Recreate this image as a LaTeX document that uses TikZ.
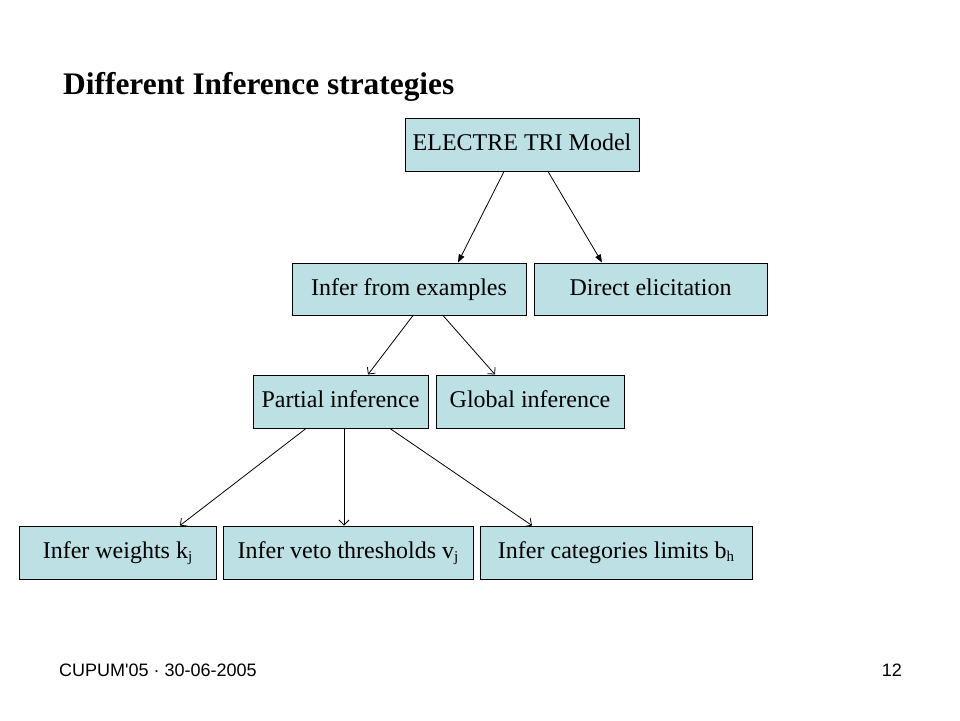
\documentclass[tikz,border=0pt]{standalone}
\usepackage{fontspec}
\setmainfont{Liberation Serif}
\newfontfamily\footfont{Liberation Sans}
\usetikzlibrary{arrows.meta,calc}
\definecolor{boxfill}{RGB}{189,224,228}
\tikzset{
  bx/.style={draw=black, line width=1pt, fill=boxfill, rectangle, inner sep=0pt,
    text height=17pt, text depth=5pt,
    font=\fontsize{24}{28}\selectfont},
  arfill/.style={line width=0.8pt, -{Triangle[length=8pt,width=6pt]}},
  aropen/.style={line width=0.8pt, -{Straight Barb[length=5pt,width=10pt]}},
}
\newcommand{\sbs}[1]{\raisebox{-0.3ex}{\fontsize{15}{15}\selectfont #1}}
\begin{document}
\begin{tikzpicture}[x=1pt,y=-1pt]
\useasboundingbox[fill=white] (0,0) rectangle (960,720);
% title
\node[anchor=base west, inner sep=0pt, font=\fontsize{31.4}{36}\selectfont\bfseries] (title) at (63,94) {Different Inference strategies};
% boxes
\node[bx, minimum width=234pt, minimum height=53pt] (e) at (522,144.5) {ELECTRE TRI Model};
\node[bx, minimum width=234pt, minimum height=52pt] (ife) at (409,289) {Infer from examples};
\node[bx, minimum width=233pt, minimum height=52pt] (de) at (650.5,289) {Direct elicitation};
\node[bx, minimum width=175pt, minimum height=53pt] (pi) at (340.5,401.5) {Partial inference};
\node[bx, minimum width=188pt, minimum height=53pt] (gi) at (530,401.5) {Global inference};
\node[bx, minimum width=197pt, minimum height=53pt] (w) at (117.5,552.5) {Infer weights k\sbs{j}};
\node[bx, minimum width=250pt, minimum height=53pt] (v) at (348,552.5) {Infer veto thresholds v\sbs{j}};
\node[bx, minimum width=272pt, minimum height=53pt] (c) at (616,552.5) {Infer categories limits b\sbs{h}};
% arrows
\draw[arfill] ([xshift=-18pt]e.south) -- ([xshift=49pt]ife.north);
\draw[arfill] ([xshift=26pt]e.south) -- ([xshift=-48.5pt]de.north);
\draw[aropen] ([xshift=4pt]ife.south) -- ([xshift=27.5pt]pi.north);
\draw[aropen] ([xshift=34pt]ife.south) -- ([xshift=-35pt]gi.north);
\draw[aropen] ([xshift=-34.5pt]pi.south) -- ([xshift=62.5pt]w.north);
\draw[aropen] ([xshift=3.5pt]pi.south) -- ([xshift=-4pt]v.north);
\draw[aropen] ([xshift=49.5pt]pi.south) -- ([xshift=-84pt]c.north);
% footer
\node[anchor=base west, inner sep=0pt, font=\footfont\fontsize{18}{20}\selectfont] (foot) at (59,676) {CUPUM'05 · 30-06-2005};
\node[anchor=base east, inner sep=0pt, font=\footfont\fontsize{18}{20}\selectfont] (pg) at (902,676) {12};
\end{tikzpicture}
\end{document}
